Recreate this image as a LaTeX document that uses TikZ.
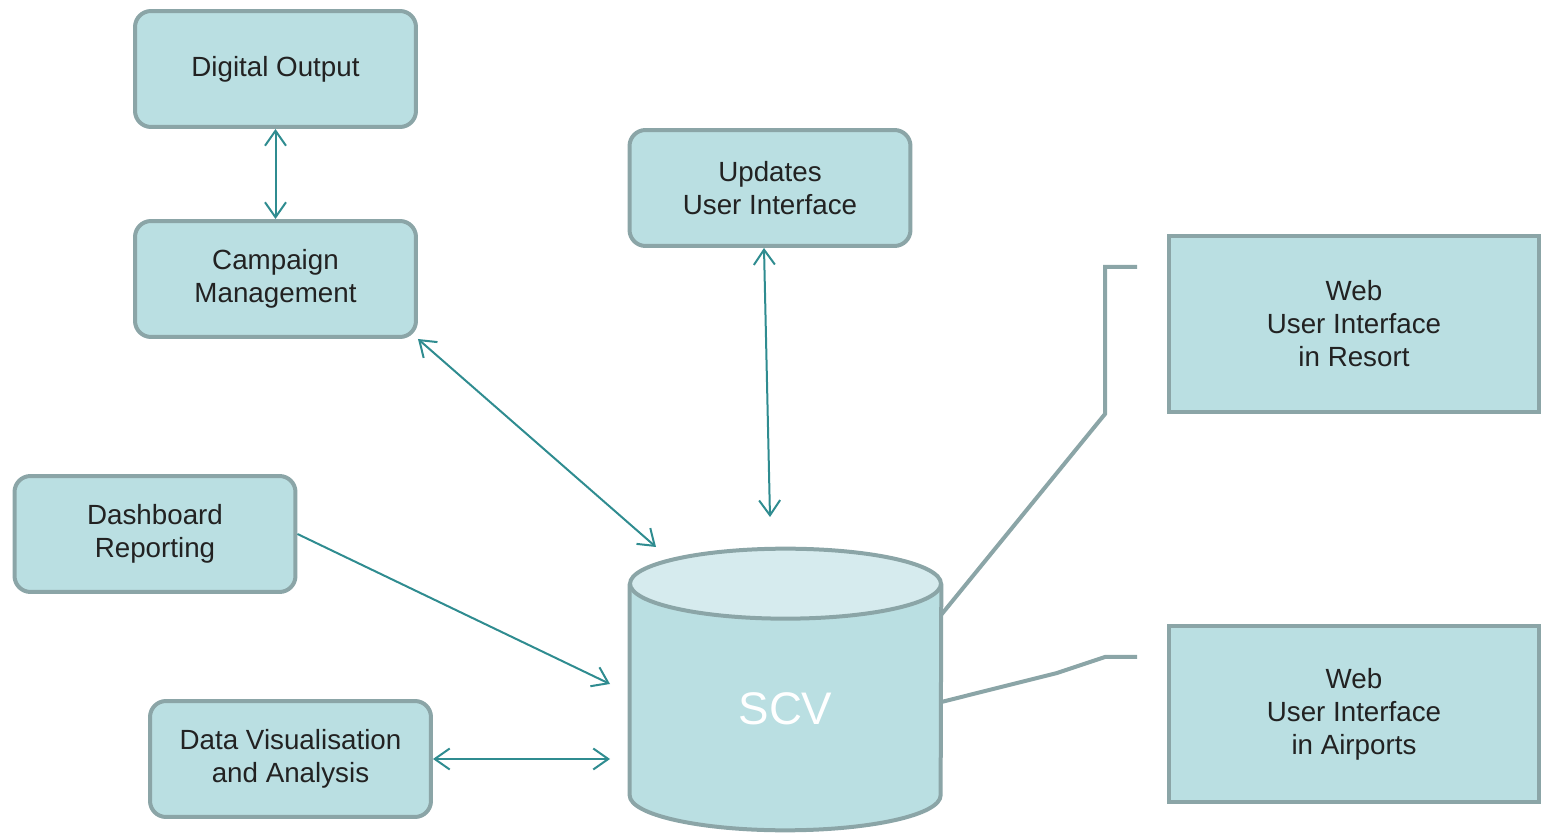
\documentclass[tikz,border=0pt]{standalone}
\usepackage{fontspec}
\setmainfont{Liberation Sans}
\usetikzlibrary{arrows.meta, positioning, calc}
\definecolor{boxfill}{HTML}{BADFE2}
\definecolor{boxline}{HTML}{8BA5A7}
\definecolor{linkcol}{HTML}{2F8C90}
\definecolor{capfill}{HTML}{D6EBEE}
\definecolor{txt}{HTML}{222222}
\tikzset{%
   box/.style={
      rectangle,
      rounded corners=0.32cm,
      draw=boxline,
      fill=boxfill,
      line width=0.08cm,
      minimum width=5.62cm,
      minimum height=2.32cm,
      align=center,
      text=txt,
      inner sep=2pt,
      font=\fontsize{15.8}{18.8}\selectfont
   },
   webbox/.style={
      box,
      sharp corners,
      minimum width=7.4cm,
      minimum height=3.52cm
   },
   % the database body itself is drawn from this node's anchors
   dbbody/.style={
      rectangle,
      inner sep=0pt,
      minimum width=6.22cm,
      minimum height=4.22cm
   },
   dbline/.style={
      draw=boxline,
      line width=0.08cm
   },
   dbtext/.style={
      text=white,
      font=\fontsize{26}{30}\selectfont
   },
   link/.style={
      draw=linkcol,
      line width=0.04cm,
      {Straight Barb[length=0.3cm, width=0.42cm]}-{Straight Barb[length=0.3cm, width=0.42cm]}
   },
   feed/.style={
      link,
      -{Straight Barb[length=0.3cm, width=0.42cm]}
   },
   wire/.style={
      draw=boxline,
      line width=0.08cm
   },
}

\begin{document}
\begin{tikzpicture}[x=0.02cm, y=-0.02cm]
    \useasboundingbox (0,0) rectangle (1543,834);
    \node[box] (digital) at (275.5,69) {Digital Output};
    \node[box] (campaign) at (275.5,279) {Campaign\\Management};
    \node[box] (updates) at (770,188) {Updates\\User Interface};
    \node[box] (dashboard) at (155,534) {Dashboard\\Reporting};
    \node[box] (datavis) at (290.5,759) {Data Visualisation\\and Analysis};
    \node[webbox] (resort) at (1354,324) {Web\\User Interface\\in Resort};
    \node[webbox] (airports) at (1354,714) {Web\\User Interface\\in Airports};

    \node[dbbody] (scv) at (785.5,689.5) {};
    \fill[boxfill] (scv.north west) -- (scv.south west)
        arc[start angle=180, end angle=360, x radius=3.11cm, y radius=0.7cm]
        -- (scv.north east) -- cycle;
    \draw[dbline] (scv.north west) -- (scv.south west)
        arc[start angle=180, end angle=360, x radius=3.11cm, y radius=0.7cm]
        -- (scv.north east);
    \draw[dbline, fill=capfill] (scv.north) ellipse [x radius=3.11cm, y radius=0.7cm];
    \node[dbtext] (scvlabel) at (785.5,709) {SCV};

    \coordinate (cmpend) at (656,547);
    \coordinate (updend) at (770,517);
    \coordinate (dashend) at (610,684);
    \coordinate (visend) at (610,759);
    \coordinate (resortend) at (1137,267);
    \coordinate (airend) at (1137,657);

    \draw[link] (digital) -- (campaign);
    \draw[link] (campaign.south east) -- (cmpend);
    \draw[link] ([xshift=-0.12cm]updates.south) -- (updend);
    \draw[feed] (dashboard.east) -- (dashend);
    \draw[link] (datavis.east) -- (visend);
    \draw[wire] ([yshift=-0.62cm]scv.north east) -- (1105,414) |- (resortend);
    \draw[wire] ([yshift=-0.25cm]scv.east) -- (1057,673) -- (1105,657) -- (airend);
\end{tikzpicture}
\end{document}
